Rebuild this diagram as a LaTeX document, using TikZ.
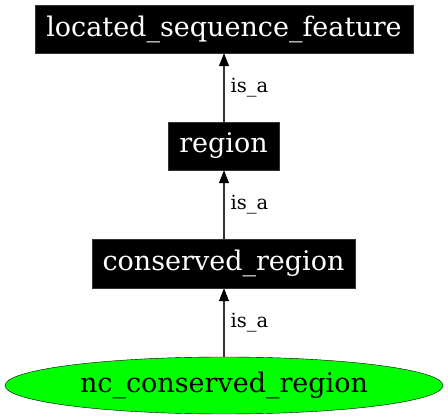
\documentclass[tikz,border=0pt]{standalone}
\usepackage{fontspec}
\setmainfont{DejaVu Serif}
\usetikzlibrary{arrows.meta,shapes.geometric}
\definecolor{ncgreen}{RGB}{0,255,0}
\tikzset{
  termbox/.style={rectangle, fill=black, draw=black!80, text=white, inner sep=0pt,
    font=\fontsize{27}{32}\selectfont},
  leafnode/.style={ellipse, fill=ncgreen, draw=black, inner sep=0pt,
    minimum width=438pt, minimum height=57pt, font=\fontsize{27}{32}\selectfont},
  isa/.style={draw=black!80, line width=1.2pt, -{Triangle[length=13pt,width=10pt,color=black]}},
  isalabel/.style={font=\fontsize{19.5}{22}\selectfont, anchor=west, inner sep=0pt, text=black}
}
\begin{document}
\begin{tikzpicture}[x=1pt,y=-1pt]
\useasboundingbox (0,0) rectangle (448,419);
\node[termbox, minimum width=378pt, minimum height=48pt] (lsf) at (224,29) {located\_sequence\_feature};
\node[termbox, minimum width=111pt, minimum height=48pt] (reg) at (223.5,146) {region};
\node[termbox, minimum width=263pt, minimum height=49pt] (cons) at (223.5,263.5) {conserved\_region};
\node[leafnode] (nc) at (224,385.5) {nc\_conserved\_region};
\draw[isa] (reg.north -| lsf.south) -- (lsf.south) node[pos=0.5, isalabel, xshift=6pt] {is\_a};
\draw[isa] (cons.north -| lsf.south) -- (reg.south -| lsf.south) node[pos=0.5, isalabel, xshift=6pt] {is\_a};
\draw[isa] (nc.north) -- (cons.south -| nc.north) node[pos=0.5, isalabel, xshift=6pt] {is\_a};
\end{tikzpicture}
\end{document}
